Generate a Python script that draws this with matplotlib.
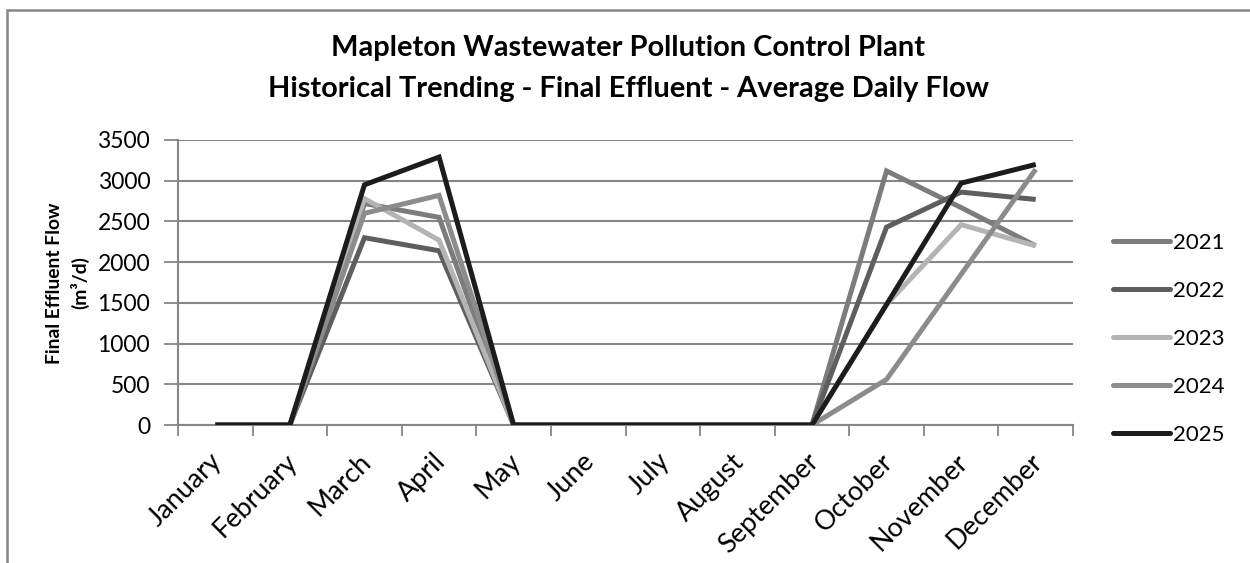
import matplotlib
matplotlib.use("Agg")
import matplotlib.pyplot as plt
from matplotlib.lines import Line2D
from matplotlib.patches import Rectangle

months = ["January", "February", "March", "April", "May", "June", "July",
          "August", "September", "October", "November", "December"]
years = ["2021", "2022", "2023", "2024", "2025"]
flow_2021 = [0, 0, 2720, 2550, 0, 0, 0, 0, 0, 3120, 2670, 2200]
flow_2022 = [0, 0, 2300, 2140, 0, 0, 0, 0, 0, 2430, 2860, 2770]
flow_2023 = [0, 0, 2780, 2270, 0, 0, 0, 0, 0, 1480, 2460, 2200]
flow_2024 = [0, 0, 2600, 2820, 0, 0, 0, 0, 0, 560, 1850, 3140]
flow_2025 = [0, 0, 2950, 3290, 0, 0, 0, 0, 0, 1480, 2970, 3200]
series = [flow_2021, flow_2022, flow_2023, flow_2024, flow_2025]
colors = ["#7c7c7c", "#5e5e5e", "#b4b4b4", "#8c8c8c", "#1c1c1c"]
yticks = [0, 500, 1000, 1500, 2000, 2500, 3000, 3500]

plt.rcParams['font.family'] = ['Lato', 'DejaVu Sans']

W, H = 1250, 563
fig = plt.figure(figsize=(W / 100, H / 100), dpi=100)
renderer = fig.canvas.get_renderer()


def fit_size(s, target_px, weight='normal'):
    t = fig.text(0, 0, s, fontsize=10, fontweight=weight)
    w = t.get_window_extent(renderer).width
    t.remove()
    return 10 * target_px / w


tick_fs = fit_size("3500", 53)
month_fs = fit_size("September", 130)
title_fs = fit_size("Historical Trending - Final Effluent - Average Daily Flow", 722, 'bold')
ylab_fs = fit_size("Final Effluent Flow", 162, 'bold')
leg_fs = fit_size("2021", 52)

ax = fig.add_axes([178 / W, 1 - 425 / H, (1073 - 178) / W, (425 - 140) / H])

x = list(range(len(months)))
for vals, c, yr in zip(series, colors, years):
    ax.plot(x, vals, color=c, lw=3.6, solid_joinstyle='miter',
            solid_capstyle='butt', label=yr, zorder=3)

ax.set_xlim(-0.5, len(months) - 0.5)
ax.set_ylim(0, 3500)
ax.set_yticks(yticks)
ax.set_yticklabels([str(v) for v in yticks], fontsize=tick_fs)
ax.yaxis.grid(True, color="#868686", lw=1.5, zorder=0)
ax.set_axisbelow(True)

ax.set_xticks([i - 0.5 for i in range(len(months) + 1)])
ax.set_xticklabels([])
ax.tick_params(axis='x', length=8, width=1.3, color="#868686", direction='out')
ax.tick_params(axis='y', length=10, width=1.3, color="#868686", direction='out', pad=10)
for i, m in enumerate(months):
    ax.text(i + 0.04, -400, m, rotation=45, ha='right', va='center',
            rotation_mode='anchor', fontsize=month_fs, transform=ax.transData,
            clip_on=False)

for s in ['top', 'right']:
    ax.spines[s].set_visible(False)
for s in ['left', 'bottom']:
    ax.spines[s].set_color("#868686")
    ax.spines[s].set_linewidth(1.5)

fig.text(68 / W, 1 - 283 / H, "Final Effluent Flow\n(m³/d)", rotation=90,
         ha='center', va='center', fontsize=ylab_fs, fontweight='bold', linespacing=1.45,
         multialignment='center')

fig.text(628 / W, 1 - 48 / H, "Mapleton Wastewater Pollution Control Plant",
         ha='center', va='center', fontsize=title_fs, fontweight='bold')
fig.text(628 / W, 1 - 89 / H, "Historical Trending - Final Effluent - Average Daily Flow",
         ha='center', va='center', fontsize=title_fs, fontweight='bold')

handles = [Line2D([0], [0], color=c, lw=3.6, solid_capstyle='round') for c in colors]
fs_px = leg_fs * 100 / 72
fig.legend(handles, years, loc='center left', bbox_to_anchor=(1113 / W, 1 - 339 / H),
           frameon=False, fontsize=leg_fs, handlelength=57 / fs_px,
           handletextpad=3 / fs_px, labelspacing=1.25, borderpad=0,
           borderaxespad=0)

fig.patches.append(Rectangle((6.5 / W, -0.1), 1.2, (1 - 9.5 / H) + 0.1,
                             transform=fig.transFigure, fill=False,
                             edgecolor="#868686", lw=1.8))

fig.savefig("out.png", dpi=100)
